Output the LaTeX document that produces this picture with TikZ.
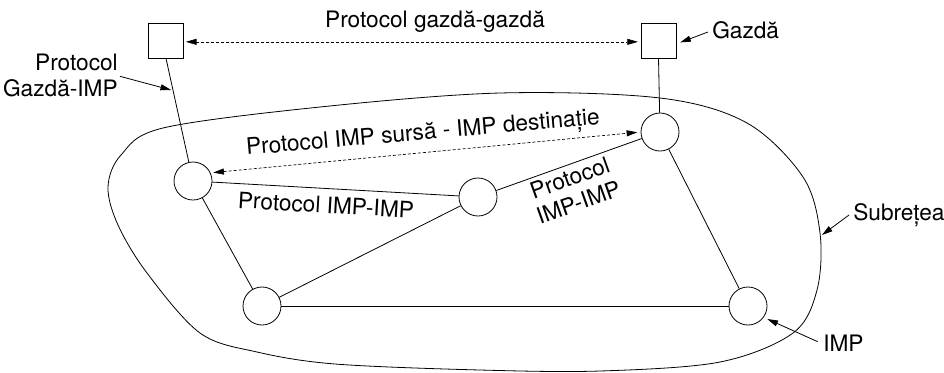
\documentclass[tikz,border=0pt]{standalone}
\usepackage{fontspec}
\setmainfont{TeX Gyre Heros}
\usetikzlibrary{arrows.meta}
\begin{document}
\begin{tikzpicture}[x=0.75pt,y=-0.75pt,
  every node/.style={font=\fontsize{17}{19.5}\selectfont},
  imp/.style={circle,draw,line width=0.6pt,minimum size=28.5pt,inner sep=0pt},
  host/.style={rectangle,draw,line width=0.6pt,minimum size=26.25pt,inner sep=0pt},
  link/.style={line width=0.6pt},
  tip/.tip={Triangle[length=8pt,width=4.5pt]},
  proto/.style={line width=0.5pt,dash pattern=on 2.25pt off 1.5pt,tip-tip},
  callout/.style={line width=0.6pt,-tip},
  lbl/.style={inner sep=0pt}
]
\useasboundingbox (0,0) rectangle (944,372);

% subnet outline
\draw[link] plot[smooth cycle,tension=0.55] coordinates {
  (163,128) (320,107) (500,93) (660,98) (747,123) (803,177) (820,233)
  (817,290) (793,333) (720,362) (600,371) (480,370) (335,364) (257,352)
  (200,333) (147,273) (118,225) (108,187) (121,155)};

% hosts and IMPs
\node[host] (hL) at (166,40.5) {};
\node[host] (hR) at (658.5,40.5) {};
\node[imp] (A) at (193,181) {};
\node[imp] (B) at (478,197) {};
\node[imp] (C) at (660,132) {};
\node[imp] (D) at (262,306) {};
\node[imp] (E) at (748,306) {};

% physical links
\draw[link] (hL.south) -- (A) coordinate[pos=0.31] (hostlink);
\draw[link] (hR.south) -- (C);
\draw[link] (A) -- (B);
\draw[link] (B) -- (C);
\draw[link] (A) -- (D);
\draw[link] (B) -- (D);
\draw[link] (D) -- (E);
\draw[link] (C) -- (E);

% logical protocol paths
\draw[proto,shorten <=1.5pt,shorten >=2pt] ([yshift=-1pt]hL.east) -- ([yshift=-1pt]hR.west);
\draw[proto,shorten <=2pt,shorten >=2.5pt] (A.25) -- (C.180);

% labels
\node[lbl] (lhh) at (435,22) {Protocol gazdă-gazdă};
\node[lbl,rotate=5] (lsd) at (423,134.5) {Protocol IMP sursă - IMP destinație};
\node[lbl,rotate=-3.3] (lab) at (326,205) {Protocol IMP-IMP};
\node[lbl,rotate=19.7,align=center] (lbc) at (574,190) {Protocol\\IMP-IMP};
\node[lbl,anchor=east,align=right] (lhi) at (118,75) {Protocol\\Gazdă-IMP};
\node[lbl,anchor=west] (lgazda) at (712,30) {Gazdă};
\node[lbl,anchor=west] (lnet) at (853,215) {Subrețea};
\node[lbl,anchor=west] (limp) at (823,343) {IMP};

% callout arrows
\coordinate (nettip) at (822,235);
\draw[callout,shorten >=1.5pt] ([xshift=1.5pt,yshift=-1pt]lhi.east) -- (hostlink);
\draw[callout,shorten >=3pt] ([xshift=-3pt,yshift=-1.5pt]lgazda.west) -- ([yshift=-2.5pt]hR.east);
\draw[callout] ([xshift=-3pt]lnet.west) -- (nettip);
\draw[callout,shorten >=3pt] ([xshift=-4pt,yshift=1pt]limp.west) -- (E.-36);
\end{tikzpicture}
\end{document}
